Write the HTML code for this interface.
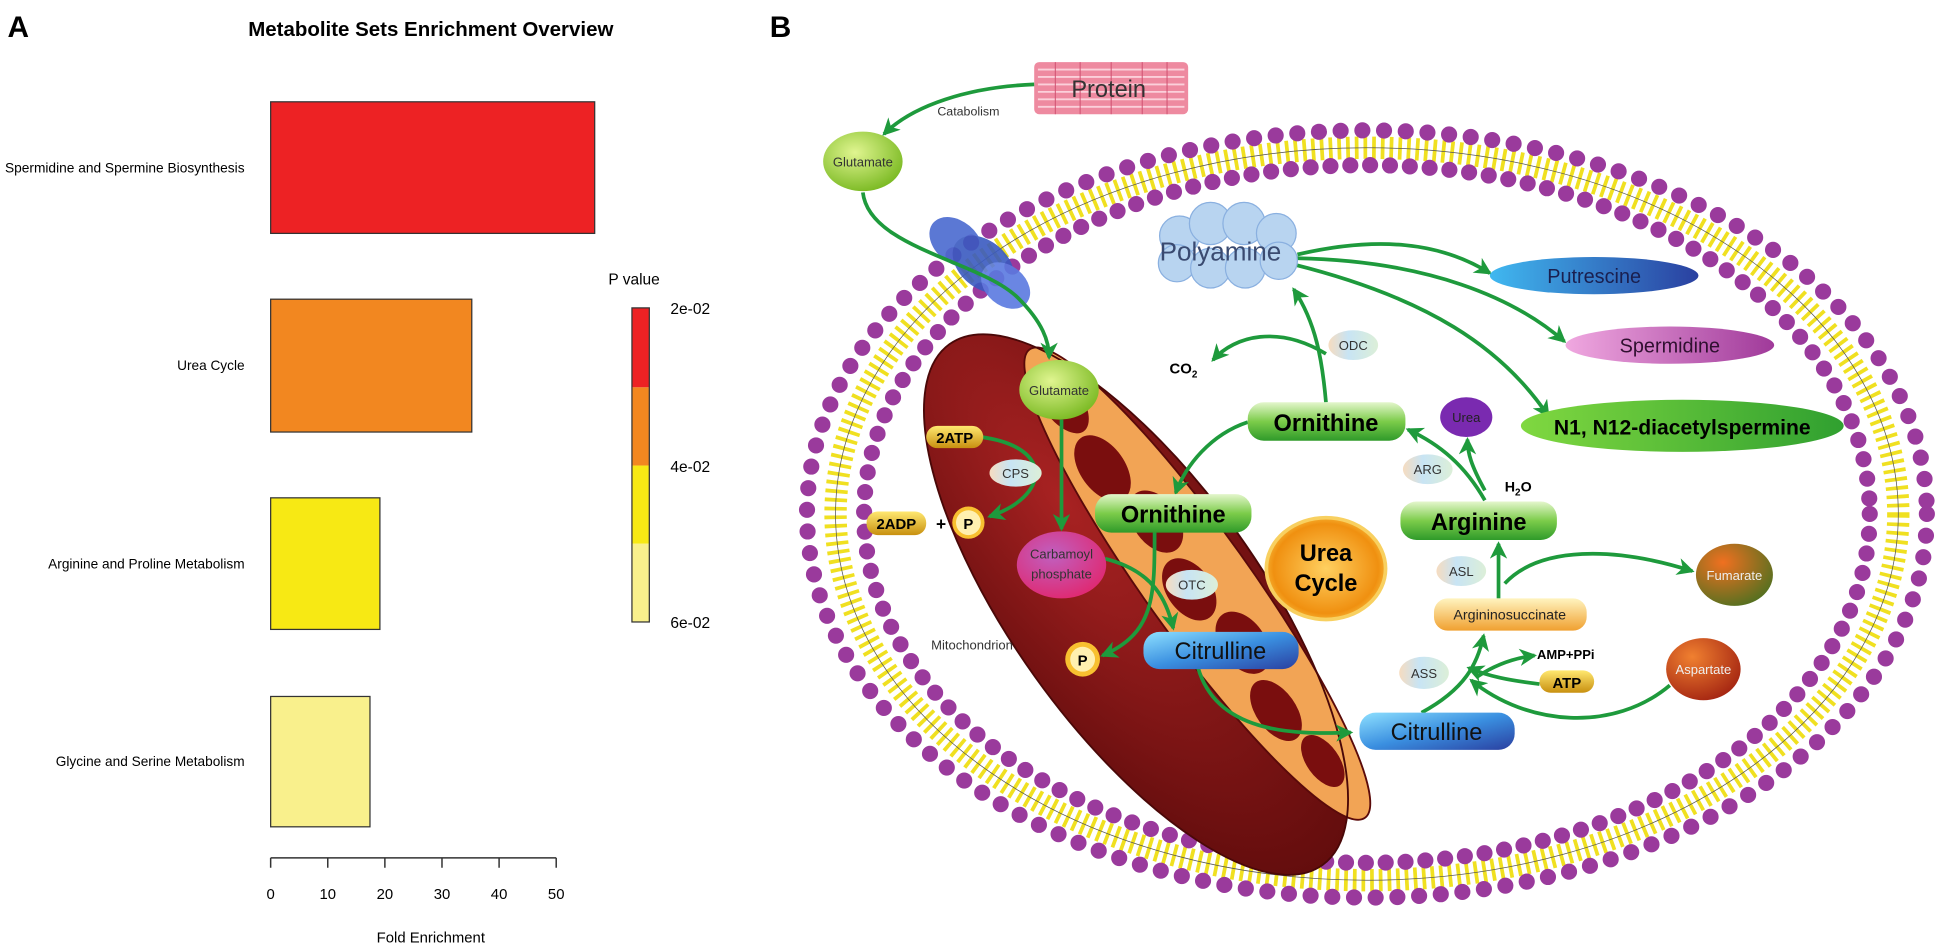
<!DOCTYPE html>
<html><head><meta charset="utf-8"><style>
html,body{margin:0;padding:0;background:#fff;width:1943px;height:946px;overflow:hidden}
svg{display:block}
text{font-family:"Liberation Sans",sans-serif}
</style></head><body>
<svg width="1943" height="946" viewBox="0 0 1565 762" preserveAspectRatio="none" xmlns="http://www.w3.org/2000/svg">
<defs>
<marker id="ah" markerUnits="userSpaceOnUse" markerWidth="16" markerHeight="16" refX="12" refY="7" orient="auto"><path d="M0,0 L14,7 L0,14 L4,7 Z" fill="#1e9a3c"/></marker>
<linearGradient id="gGreen" x1="0" y1="0" x2="0" y2="1"><stop offset="0" stop-color="#e4f6cc"/><stop offset="0.5" stop-color="#7ccc4a"/><stop offset="1" stop-color="#2f9a2a"/></linearGradient>
<linearGradient id="gBlue" x1="0" y1="0" x2="1" y2="1"><stop offset="0" stop-color="#8ee0ff"/><stop offset="0.5" stop-color="#3a8fe0"/><stop offset="1" stop-color="#2a3fa0"/></linearGradient>
<radialGradient id="gLime" cx="0.4" cy="0.35" r="0.7"><stop offset="0" stop-color="#e0f590"/><stop offset="1" stop-color="#78b820"/></radialGradient>
<radialGradient id="gMag" cx="0.4" cy="0.35" r="0.7"><stop offset="0" stop-color="#c060c0"/><stop offset="1" stop-color="#e02870"/></radialGradient>
<radialGradient id="gUrea" cx="0.5" cy="0.5" r="0.55"><stop offset="0" stop-color="#ffd060"/><stop offset="0.8" stop-color="#f09010"/><stop offset="1" stop-color="#f8c040"/></radialGradient>
<radialGradient id="gFum" cx="0.35" cy="0.3" r="0.8"><stop offset="0" stop-color="#f07020"/><stop offset="1" stop-color="#4a7020"/></radialGradient>
<radialGradient id="gAsp" cx="0.35" cy="0.3" r="0.8"><stop offset="0" stop-color="#f08030"/><stop offset="1" stop-color="#a02010"/></radialGradient>
<linearGradient id="gGold" x1="0" y1="0" x2="0" y2="1"><stop offset="0" stop-color="#ffe870"/><stop offset="1" stop-color="#c89010"/></linearGradient>
<linearGradient id="gArgS" x1="0" y1="0" x2="0" y2="1"><stop offset="0" stop-color="#fff4c0"/><stop offset="1" stop-color="#f0a030"/></linearGradient>
<linearGradient id="gPut" x1="0" y1="0" x2="1" y2="0"><stop offset="0" stop-color="#40b8f0"/><stop offset="1" stop-color="#2a40a0"/></linearGradient>
<linearGradient id="gSpd" x1="0" y1="0" x2="1" y2="0"><stop offset="0" stop-color="#f0a8e0"/><stop offset="1" stop-color="#a03a9a"/></linearGradient>
<linearGradient id="gN1" x1="0" y1="0" x2="1" y2="0"><stop offset="0" stop-color="#80d840"/><stop offset="1" stop-color="#30a030"/></linearGradient>
<linearGradient id="gEnz" x1="0" y1="0" x2="1" y2="0"><stop offset="0" stop-color="#f6dcc0"/><stop offset="0.4" stop-color="#c8e4f4"/><stop offset="1" stop-color="#dcefd8"/></linearGradient>
<radialGradient id="gMito" cx="0.3" cy="0.5" r="0.8"><stop offset="0" stop-color="#a82222"/><stop offset="1" stop-color="#5a0a0a"/></radialGradient>
</defs>

<!-- Panel A -->
<text x="6" y="30" font-size="24" font-weight="bold">A</text>
<text x="347" y="29" font-size="16.5" font-weight="bold" text-anchor="middle">Metabolite Sets Enrichment Overview</text>
<rect x="218" y="82" width="261" height="106" fill="#ed2224" stroke="#333" stroke-width="1"/>
<rect x="218" y="241" width="162" height="107" fill="#f28720" stroke="#333" stroke-width="1"/>
<rect x="218" y="401" width="88" height="106" fill="#f7e914" stroke="#333" stroke-width="1"/>
<rect x="218" y="561" width="80" height="105" fill="#f9f08c" stroke="#333" stroke-width="1"/>
<g font-size="11" text-anchor="end">
<text x="197" y="139" textLength="193" lengthAdjust="spacingAndGlyphs">Spermidine and Spermine Biosynthesis</text>
<text x="197" y="298">Urea Cycle</text>
<text x="197" y="458">Arginine and Proline Metabolism</text>
<text x="197" y="617">Glycine and Serine Metabolism</text>
</g>
<g stroke="#333" stroke-width="1.2" fill="none">
<path d="M218,691 H448"/>
<path d="M218,691 v8 M264,691 v8 M310,691 v8 M356,691 v8 M402,691 v8 M448,691 v8"/>
</g>
<g font-size="12" text-anchor="middle">
<text x="218" y="724">0</text><text x="264" y="724">10</text><text x="310" y="724">20</text><text x="356" y="724">30</text><text x="402" y="724">40</text><text x="448" y="724">50</text>
<text x="347" y="759">Fold Enrichment</text>
</g>
<text x="490" y="229" font-size="12.5">P value</text>
<rect x="509" y="248" width="14" height="64" fill="#ed2224"/>
<rect x="509" y="312" width="14" height="63" fill="#f28720"/>
<rect x="509" y="375" width="14" height="63" fill="#f7e914"/>
<rect x="509" y="438" width="14" height="63" fill="#f9f08c"/>
<rect x="509" y="248" width="14" height="253" fill="none" stroke="#333" stroke-width="1"/>
<g font-size="12.5"><text x="540" y="253">2e-02</text><text x="540" y="380">4e-02</text><text x="540" y="506">6e-02</text></g>

<!-- Panel B -->
<text x="620" y="30" font-size="24" font-weight="bold">B</text>

<!-- membrane -->
<ellipse cx="1101" cy="414" rx="428" ry="295" fill="none" stroke="#f0e020" stroke-width="18" stroke-dasharray="3 4"/>
<ellipse cx="1101" cy="414" rx="428" ry="295" fill="none" stroke="#555" stroke-width="0.6"/>
<ellipse cx="1101" cy="414" rx="451" ry="309" fill="none" stroke="#9a3a9c" stroke-width="13" stroke-linecap="round" stroke-dasharray="0 17.5"/>
<ellipse cx="1101" cy="414" rx="405" ry="281" fill="none" stroke="#9a3a9c" stroke-width="13" stroke-linecap="round" stroke-dasharray="0 16"/>

<!-- protein -->
<g>
<rect x="833" y="50" width="124" height="42" rx="4" fill="#ee8aa0"/>
<g stroke="#fbd0da" stroke-width="1.5"><path d="M836,56 H954 M836,62 H954 M836,68 H954 M836,74 H954 M836,80 H954 M836,86 H954"/></g>
<g stroke="#d05070" stroke-width="0.8"><path d="M850,50 v42 M870,50 v42 M895,50 v42 M920,50 v42 M940,50 v42"/></g>
<text x="893" y="78" font-size="19" text-anchor="middle" fill="#333">Protein</text>
</g>
<text x="755" y="93" font-size="10" fill="#333">Catabolism</text>

<!-- transporter -->
<g fill="#4a6ad0" opacity="0.9">
<ellipse cx="770" cy="195" rx="24" ry="17" transform="rotate(40 770 195)"/>
<ellipse cx="792" cy="213" rx="28" ry="19" transform="rotate(40 792 213)" fill="#3a5ac0"/>
<ellipse cx="810" cy="230" rx="22" ry="16" transform="rotate(40 810 230)" fill="#5a7ae0"/>
</g>

<!-- mitochondrion -->
<g transform="rotate(54.4 915 487)">
<ellipse cx="915" cy="487" rx="258" ry="100" fill="url(#gMito)"/>
<ellipse cx="930" cy="437" rx="232" ry="42" fill="#f2a455" stroke="#5a0a0a" stroke-width="1.5"/>
<g fill="#7a0e0e">
<ellipse cx="745" cy="440" rx="32" ry="16"/>
<ellipse cx="810" cy="445" rx="30" ry="18"/>
<ellipse cx="870" cy="435" rx="28" ry="18"/>
<ellipse cx="930" cy="445" rx="28" ry="18"/>
<ellipse cx="990" cy="435" rx="28" ry="18"/>
<ellipse cx="1050" cy="445" rx="28" ry="16"/>
<ellipse cx="1105" cy="438" rx="24" ry="13"/>
</g>
<ellipse cx="915" cy="487" rx="258" ry="100" fill="none" stroke="#4a0808" stroke-width="1.5"/>
</g>

<!-- arrows -->
<g fill="none" stroke="#1e9a3c" stroke-width="3" marker-end="url(#ah)">
<path d="M833,68 C780,70 735,85 712,108"/>
<path d="M695,155 C700,200 790,210 820,240 C840,260 845,275 845,288"/>
<path d="M855,338 L855,426"/>
<path d="M790,352 C850,360 845,400 797,416"/>
<path d="M890,450 C930,460 940,485 945,506"/>
<path d="M930,428 C930,480 930,510 888,528"/>
<path d="M965,538 C980,590 1040,592 1088,590"/>
<path d="M1145,574 C1180,555 1190,535 1195,512"/>
<path d="M1207,482 L1207,438"/>
<path d="M1212,470 C1240,440 1300,440 1363,460"/>
<path d="M1196,403 C1180,375 1160,358 1134,346"/>
<path d="M1196,395 C1185,375 1182,365 1182,354"/>
<path d="M1005,340 C975,350 955,375 947,397"/>
<path d="M1068,324 C1065,290 1060,260 1042,233"/>
<path d="M1068,285 C1030,262 995,270 977,290"/>
<path d="M1045,205 C1110,190 1160,195 1200,220"/>
<path d="M1045,208 C1150,210 1220,240 1260,275"/>
<path d="M1042,213 C1150,240 1210,280 1247,335"/>
<path d="M1190,545 C1205,535 1220,530 1236,528"/>
<path d="M1240,551 C1215,548 1200,545 1183,538"/>
<path d="M1345,552 C1300,590 1230,585 1185,548"/>
</g>

<!-- nodes -->
<ellipse cx="695" cy="130" rx="32" ry="24" fill="url(#gLime)"/>
<text x="695" y="134" font-size="10.5" text-anchor="middle" fill="#333">Glutamate</text>

<ellipse cx="853" cy="314" rx="32" ry="24" fill="url(#gLime)"/>
<text x="853" y="318" font-size="10.5" text-anchor="middle" fill="#333">Glutamate</text>

<rect x="746" y="343" width="46" height="18" rx="9" fill="url(#gGold)"/>
<text x="769" y="357" font-size="12" font-weight="bold" text-anchor="middle">2ATP</text>

<ellipse cx="818" cy="381" rx="21" ry="11" fill="url(#gEnz)"/>
<text x="818" y="385" font-size="10.5" text-anchor="middle" fill="#333">CPS</text>

<rect x="698" y="412" width="48" height="19" rx="9" fill="url(#gGold)"/>
<text x="722" y="426" font-size="12" font-weight="bold" text-anchor="middle">2ADP</text>
<text x="758" y="427" font-size="14" font-weight="bold" text-anchor="middle">+</text>
<circle cx="780" cy="421" r="13" fill="#f8c030"/><circle cx="780" cy="421" r="10" fill="#fff0b0"/>
<text x="780" y="426" font-size="12" font-weight="bold" text-anchor="middle">P</text>

<ellipse cx="855" cy="455" rx="36" ry="27" fill="url(#gMag)"/>
<text x="855" y="450" font-size="10.5" text-anchor="middle" fill="#333">Carbamoyl</text>
<text x="855" y="466" font-size="10.5" text-anchor="middle" fill="#333">phosphate</text>

<rect x="882" y="398" width="126" height="31" rx="13" fill="url(#gGreen)"/>
<text x="945" y="421" font-size="19" font-weight="bold" text-anchor="middle">Ornithine</text>

<ellipse cx="960" cy="471" rx="21" ry="12" fill="url(#gEnz)"/>
<text x="960" y="475" font-size="10.5" text-anchor="middle" fill="#333">OTC</text>

<circle cx="872" cy="531" r="14" fill="#f8c030"/><circle cx="872" cy="531" r="10" fill="#fff0b0"/>
<text x="872" y="536" font-size="12" font-weight="bold" text-anchor="middle">P</text>
<text x="750" y="523" font-size="10.5" fill="#333">Mitochondrion</text>

<rect x="921" y="509" width="125" height="30" rx="13" fill="url(#gBlue)"/>
<text x="983" y="531" font-size="19" text-anchor="middle" fill="#111">Citrulline</text>

<rect x="1095" y="574" width="125" height="30" rx="13" fill="url(#gBlue)"/>
<text x="1157" y="596" font-size="19" text-anchor="middle" fill="#111">Citrulline</text>

<rect x="1005" y="324" width="127" height="31" rx="13" fill="url(#gGreen)"/>
<text x="1068" y="347" font-size="19" font-weight="bold" text-anchor="middle">Ornithine</text>

<ellipse cx="1181" cy="336" rx="21" ry="16" fill="#7a2ab0"/>
<text x="1181" y="340" font-size="10.5" text-anchor="middle" fill="#222">Urea</text>

<ellipse cx="1150" cy="378" rx="20" ry="12" fill="url(#gEnz)"/>
<text x="1150" y="382" font-size="10.5" text-anchor="middle" fill="#333">ARG</text>
<text x="1212" y="396" font-size="11.5" font-weight="bold">H<tspan font-size="8" dy="3">2</tspan><tspan dy="-3">O</tspan></text>

<rect x="1128" y="404" width="126" height="31" rx="13" fill="url(#gGreen)"/>
<text x="1191" y="427" font-size="19" font-weight="bold" text-anchor="middle">Arginine</text>

<ellipse cx="1068" cy="458" rx="48" ry="41" fill="url(#gUrea)" stroke="#f8d060" stroke-width="3"/>
<text x="1068" y="452" font-size="19" font-weight="bold" text-anchor="middle">Urea</text>
<text x="1068" y="476" font-size="19" font-weight="bold" text-anchor="middle">Cycle</text>

<ellipse cx="1177" cy="460" rx="20" ry="12" fill="url(#gEnz)"/>
<text x="1177" y="464" font-size="10.5" text-anchor="middle" fill="#333">ASL</text>

<rect x="1155" y="482" width="123" height="26" rx="11" fill="url(#gArgS)"/>
<text x="1216" y="499" font-size="11.5" text-anchor="middle" fill="#222">Argininosuccinate</text>

<ellipse cx="1397" cy="463" rx="31" ry="25" fill="url(#gFum)"/>
<text x="1397" y="467" font-size="10.5" text-anchor="middle" fill="#eee">Fumarate</text>

<text x="1238" y="531" font-size="10.5" font-weight="bold">AMP+PPi</text>
<rect x="1240" y="540" width="44" height="18" rx="9" fill="url(#gGold)"/>
<text x="1262" y="554" font-size="12" font-weight="bold" text-anchor="middle">ATP</text>

<ellipse cx="1372" cy="539" rx="30" ry="25" fill="url(#gAsp)"/>
<text x="1372" y="543" font-size="10.5" text-anchor="middle" fill="#eee">Aspartate</text>

<ellipse cx="1147" cy="542" rx="20" ry="13" fill="url(#gEnz)"/>
<text x="1147" y="546" font-size="10.5" text-anchor="middle" fill="#333">ASS</text>

<ellipse cx="1090" cy="278" rx="20" ry="12" fill="url(#gEnz)"/>
<text x="1090" y="282" font-size="10.5" text-anchor="middle" fill="#333">ODC</text>
<text x="942" y="301" font-size="12" font-weight="bold">CO<tspan font-size="8" dy="3">2</tspan></text>

<!-- polyamine cloud -->
<g fill="#b8d4f0" stroke="#8ab0e0" stroke-width="1">
<circle cx="950" cy="190" r="16"/><circle cx="975" cy="180" r="17"/><circle cx="1002" cy="180" r="17"/><circle cx="1028" cy="188" r="16"/>
<circle cx="948" cy="212" r="15"/><circle cx="975" cy="216" r="16"/><circle cx="1003" cy="216" r="16"/><circle cx="1030" cy="210" r="15"/>
</g>
<text x="983" y="210" font-size="21" text-anchor="middle" fill="#3a4a70">Polyamine</text>

<ellipse cx="1284" cy="222" rx="84" ry="15" fill="url(#gPut)"/>
<text x="1284" y="228" font-size="16" text-anchor="middle" fill="#1a2050">Putrescine</text>
<ellipse cx="1345" cy="278" rx="84" ry="15" fill="url(#gSpd)"/>
<text x="1345" y="284" font-size="16" text-anchor="middle" fill="#301030">Spermidine</text>
<ellipse cx="1355" cy="343" rx="130" ry="21" fill="url(#gN1)"/>
<text x="1355" y="350" font-size="17" font-weight="bold" text-anchor="middle">N1, N12-diacetylspermine</text>
</svg>
</body></html>
